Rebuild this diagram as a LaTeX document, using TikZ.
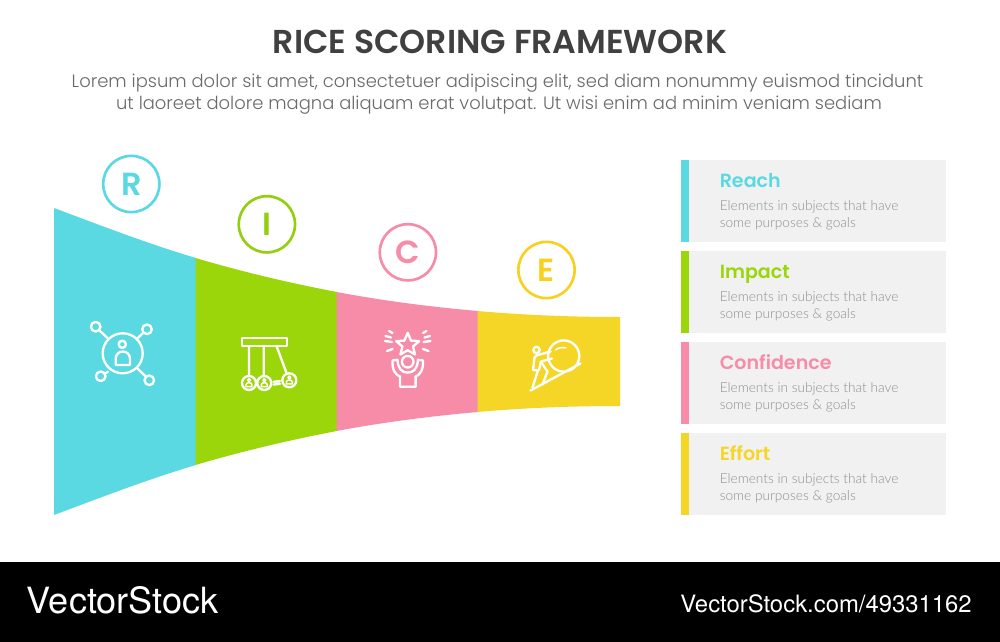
\documentclass[tikz,border=0pt]{standalone}
\usepackage{fontspec}
\setmainfont{Poppins}[UprightFont=* Light]
\newfontfamily\popfont{Poppins}[UprightFont=* SemiBold]
\newfontfamily\latofont{Lato}[UprightFont=* Light]
\newfontfamily\heros{TeX Gyre Heros}
\definecolor{cR}{HTML}{5BD9E2}
\definecolor{cI}{HTML}{9BD60A}
\definecolor{cC}{HTML}{F78CA8}
\definecolor{cE}{HTML}{F5D627}
\definecolor{cIs}{HTML}{93CF0F}
\definecolor{cEs}{HTML}{F8D020}
\definecolor{panel}{HTML}{F1F1F1}
\definecolor{ink}{HTML}{404040}
\definecolor{sub}{HTML}{6A6A6A}
\definecolor{bodyt}{HTML}{8E8E8E}
\tikzset{
  lettercircle/.style={circle,draw=#1,line width=2pt,minimum size=42.2pt,inner sep=0pt,text=#1,font=\popfont\fontsize{24}{24}\selectfont},
  icon/.style={draw=white,line width=1.75pt,line join=round,line cap=round},
  thin icon/.style={draw=white,line width=1.1pt,line join=round,line cap=round},
  headlabel/.style={anchor=base west,inner sep=0pt,font=\popfont\fontsize{14.3}{14.3}\selectfont,text=#1},
  bodylabel/.style={anchor=base west,inner sep=0pt,font=\latofont\fontsize{10.25}{10.25}\selectfont,text=bodyt},
}
\newcommand{\row}[4]{% y-top, colour, name, title
  \fill[panel] (689,#1) rectangle (945.5,#1+82);
  \fill[#2] (681,#1) rectangle (689,#1+82);
  \node[headlabel=#2] (#3h) at (719.5,#1+27.5) {#4};
  \node[bodylabel] (#3a) at (719.5,#1+50.5) {Elements in subjects that have};
  \node[bodylabel] (#3b) at (719.5,#1+67.5) {some purposes \& goals};
}
\begin{document}
\begin{tikzpicture}[x=0.75pt,y=-0.75pt]
\useasboundingbox (0,0) rectangle (1000,642);
\fill[white] (0,0) rectangle (1000,642);
% title
\node[anchor=base,inner sep=0pt,text=ink,font=\popfont\fontsize{24.85}{25.5}\selectfont] (title) at (500,53.5) {RICE SCORING FRAMEWORK};
\node[anchor=base,inner sep=0pt,text=sub,font=\fontsize{13.45}{14}\selectfont] (sub1) at (497.5,88) {Lorem ipsum dolor sit amet, consectetuer adipiscing elit, sed diam nonummy euismod tincidunt};
\node[anchor=base,inner sep=0pt,text=sub,font=\fontsize{13.45}{14}\selectfont] (sub2) at (499,109) {ut laoreet dolore magna aliquam erat volutpat. Ut wisi enim ad minim veniam sediam};
% funnel
\fill[cR] (54,208) .. controls (101.3,225.7) and (148.7,244) .. (196,258) -- (196,465) .. controls (148.7,479) and (101.3,497.3) .. (54,515) -- cycle;
\fill[cI] (195.5,258) .. controls (243,272) and (290,283.1) .. (337,292) -- (337,431) .. controls (290,439.9) and (243,451) .. (195.5,465) -- cycle;
\fill[cC] (336.5,292) .. controls (384,300.9) and (431,306.9) .. (478,311) -- (478,412) .. controls (431,416.1) and (384,422.1) .. (336.5,431) -- cycle;
\fill[cE] (477.5,311) .. controls (525.3,315.2) and (572.7,317) .. (620,317) -- (620,406) .. controls (572.7,406) and (525.3,407.8) .. (477.5,412) -- cycle;
% letters
\node[lettercircle=cR] (R) at (131.3,184) {R};
\node[lettercircle=cIs] (I) at (266.9,224.3) {I};
\node[lettercircle=cC] (C) at (407.9,252.3) {C};
\node[lettercircle=cEs] (E) at (546.5,270) {E};
% icon R
\draw[icon] (122.7,353.3) circle[radius=20];
\draw[icon] (95.7,326.7) circle[radius=4.8] (147,329.3) circle[radius=4.8] (100.7,376.3) circle[radius=4.8] (149.3,380.3) circle[radius=4.8];
\draw[icon] (99.3,330.3) -- (108.5,339) (143.5,332.5) -- (136.8,339) (104.8,373.8) -- (108,371.6) (146,376.8) -- (137,368);
\draw[icon] (122.3,344.3) circle[radius=3.6];
\draw[icon] (115.7,365) -- (115.7,358.5) arc[start angle=180,end angle=0,x radius=7.15,y radius=-7] -- (130,365) -- cycle;
% icon I
\draw[icon] (241.7,338.3) rectangle (286.7,346);
\draw[icon] (249,346) -- (249,376) (263.7,346) -- (263.7,376) (276.7,346.5) -- (286.7,373.5);
\draw[icon] (249,383) circle[radius=7] (264.3,383) circle[radius=7] (289.3,380.3) circle[radius=7];
\draw[icon] (273.5,381.8) -- (280,381) (273.5,384.6) -- (280,383.8);
\foreach \bx/\by in {249/383,264.3/383,289.3/380.3}{
  \draw[thin icon] (\bx,\by-2.8) circle[radius=1.5];
  \draw[thin icon] (\bx-3,\by+3.6) -- (\bx-3,\by+1.8) arc[start angle=180,end angle=0,x radius=3,y radius=-2.2] -- (\bx+3,\by+3.6) -- cycle;
}
% icon C
\draw[icon] (407.7,332.8) -- (411,340.6) -- (419.2,341.2) -- (413,346.5) -- (415,354.5) -- (407.7,350.2) -- (400.4,354.5) -- (402.4,346.5) -- (396.2,341.2) -- (404.4,340.6) -- cycle;
\draw[icon] (407.7,361.7) circle[radius=5.8];
\draw[icon] (392.5,360.5) -- (397.5,359.8) .. controls (398,369) and (402,372.6) .. (407.7,372.6) .. controls (413.4,372.6) and (417.4,369) .. (418,359.8) -- (423,360.5) .. controls (423.5,370) and (420,375) .. (415.6,376.5) -- (415.6,386.8) -- (400,386.8) -- (400,376.5) .. controls (395.5,375) and (392,370) .. (392.5,360.5) -- cycle;
\draw[icon] (389,331) -- (392.5,333) (385,341) -- (392,342) (387,351) -- (392.5,349)
            (426.5,331) -- (423,333) (430.5,341) -- (423.5,342) (428.5,351) -- (423,349)
            (385.5,336) -- (391,337.5) (430,336) -- (424.5,337.5);
% icon E
\draw[icon] (563.7,356) circle[radius=15.6];
\draw[thin icon] (555.5,350) .. controls (558,348) and (562,347) .. (566,348);
\draw[icon] (530.5,390.5) -- (580.5,363.5);
\draw[icon] (536.5,350) circle[radius=3.2];
\draw[icon] (550.5,351.5) -- (536.5,355.5) -- (534.5,357.5) -- (533,370) -- (538,370.5) -- (532.5,387.5);
\draw[icon] (552,358.5) -- (541,361.5) -- (539,370);
\draw[icon] (541.5,362.5) -- (547.5,371.5) -- (542.5,384.5);
% rows
\row{159.5}{cR}{r}{Reach}
\row{250.5}{cI}{i}{Impact}
\row{341.7}{cC}{c}{Confidence}
\row{432.9}{cE}{e}{Effort}
% footer
\fill[black] (0,562) rectangle (1000,642);
\node[anchor=base west,inner sep=0pt,text=white,font=\heros\fontsize{27.1}{27.1}\selectfont] (brand) at (26.5,613.5) {VectorStock};
\node[anchor=base east,inner sep=0pt,text=white,font=\heros\fontsize{17.9}{17.9}\selectfont] (url) at (972,612.5) {VectorStock.com/49331162};
\end{tikzpicture}
\end{document}
